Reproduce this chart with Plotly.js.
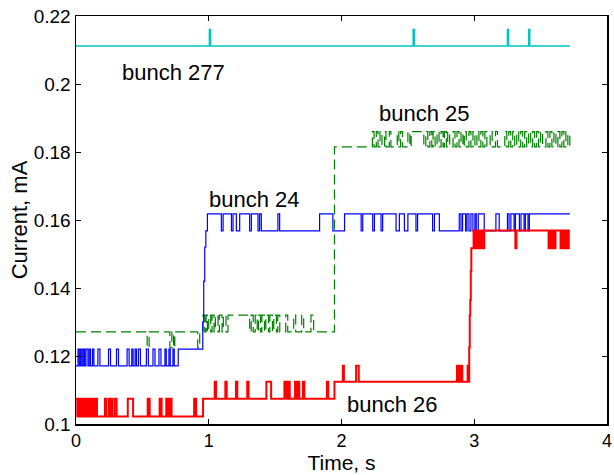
<!DOCTYPE html>
<html>
<head>
<meta charset="utf-8">
<script src="https://cdn.plot.ly/plotly-3.0.1.min.js"></script>
<style>html,body{margin:0;padding:0;background:#fff;}#chart{width:614px;height:475px;}</style>
</head>
<body>
<div id="chart"></div>
<script>
// ---- data (time in s, current in mA); each value holds until the next time ----
const cyanT = [0, 1.005, 1.013, 2.540, 2.548, 3.250, 3.258, 3.410, 3.418, 3.720];
const cyanV = [0.2112, 0.2160, 0.2112, 0.2160, 0.2112, 0.2160, 0.2112, 0.2160, 0.2112, 0.2112];

const blueT = [0.000,0.015,0.025,0.035,0.045,0.055,0.065,0.075,0.090,0.100,0.110,0.125,0.135,0.165,0.180,0.245,0.260,0.305,0.320,0.385,0.400,0.420,0.430,0.445,0.455,0.470,0.485,0.530,0.545,0.580,0.595,0.625,0.640,0.670,0.680,0.700,0.710,0.730,0.740,0.770,
  0.955,0.962,0.970,0.978,0.990,1.095,1.108,1.171,1.183,1.208,1.233,1.308,1.321,1.371,1.383,1.396,1.521,1.534,1.835,1.935,2.023,
  2.148,2.160,2.235,2.248,2.298,2.310,2.411,2.436,2.474,2.500,2.561,2.573,2.686,2.700,2.737,2.887,2.900,2.912,2.935,2.945,2.960,2.975,2.990,3.005,3.015,3.030,3.075,3.163,3.188,3.250,3.262,3.276,3.300,3.310,3.340,3.352,3.375,3.385,3.405,3.415,3.720];
const blueV = [0.1171,0.1220,0.1171,0.1220,0.1171,0.1220,0.1171,0.1220,0.1171,0.1220,0.1171,0.1220,0.1171,0.1220,0.1171,0.1220,0.1171,0.1220,0.1171,0.1220,0.1171,0.1220,0.1171,0.1220,0.1171,0.1220,0.1171,0.1220,0.1171,0.1220,0.1171,0.1220,0.1171,0.1220,0.1171,0.1220,0.1171,0.1220,0.1171,0.1220,
  0.1300,0.1420,0.1520,0.1568,0.1618,0.1568,0.1618,0.1568,0.1618,0.1568,0.1618,0.1568,0.1618,0.1568,0.1618,0.1568,0.1618,0.1568,0.1618,0.1568,0.1618,
  0.1568,0.1618,0.1568,0.1618,0.1568,0.1618,0.1568,0.1618,0.1568,0.1618,0.1568,0.1618,0.1568,0.1618,0.1568,0.1618,0.1568,0.1618,0.1568,0.1618,0.1568,0.1618,0.1568,0.1618,0.1568,0.1618,0.1568,0.1618,0.1568,0.1618,0.1568,0.1618,0.1568,0.1618,0.1568,0.1618,0.1568,0.1618,0.1568,0.1618,0.1618];

const greenT = [0.000,0.536,0.551,0.707,0.722,0.735,0.744,0.917,0.932,0.957,0.970,0.980,0.990,1.000,1.015,1.025,1.040,1.050,1.070,1.080,1.100,1.110,1.130,1.145,1.308,1.320,1.335,1.350,1.365,1.375,1.390,1.400,1.420,1.430,1.450,1.460,1.480,1.490,1.510,1.520,1.535,1.580,1.595,1.640,1.655,1.700,1.715,1.770,1.790,
  1.947,2.233,2.245,2.262,2.275,2.290,2.305,2.325,2.335,2.360,2.372,2.420,2.432,2.445,2.460,2.500,2.515,2.525,2.620,2.635,2.650,2.665,2.680,2.690,2.705,2.720,2.735,2.750,2.765,2.775,2.790,2.800,2.815,2.840,2.855,2.870,2.885,2.900,2.915,2.925,2.940,2.960,2.975,2.990,3.005,3.020,3.035,3.050,3.065,3.080,3.095,3.120,3.135,3.160,3.175,3.230,3.245,3.260,3.275,3.290,3.305,3.320,3.335,3.350,3.365,3.380,3.395,3.410,3.425,3.440,3.455,3.470,3.485,3.500,3.515,3.540,3.555,3.570,3.585,3.600,3.615,3.630,3.645,3.660,3.675,3.690,3.705,3.720];
const greenV = [0.1271,0.1224,0.1271,0.1224,0.1271,0.1224,0.1271,0.1224,0.1271,0.1320,0.1271,0.1320,0.1271,0.1320,0.1271,0.1320,0.1271,0.1320,0.1271,0.1320,0.1271,0.1320,0.1271,0.1320,0.1271,0.1320,0.1271,0.1320,0.1271,0.1320,0.1271,0.1320,0.1271,0.1320,0.1271,0.1320,0.1271,0.1320,0.1271,0.1320,0.1271,0.1320,0.1271,0.1320,0.1271,0.1320,0.1271,0.1320,0.1271,
  0.1815,0.1860,0.1815,0.1860,0.1815,0.1860,0.1815,0.1860,0.1815,0.1860,0.1815,0.1860,0.1815,0.1860,0.1815,0.1860,0.1815,0.1860,0.1815,0.1860,0.1815,0.1860,0.1815,0.1860,0.1815,0.1860,0.1815,0.1860,0.1815,0.1860,0.1815,0.1860,0.1815,0.1860,0.1815,0.1860,0.1815,0.1860,0.1815,0.1860,0.1815,0.1860,0.1815,0.1860,0.1815,0.1860,0.1815,0.1860,0.1815,0.1860,0.1815,0.1860,0.1815,0.1860,0.1815,0.1860,0.1815,0.1860,0.1815,0.1860,0.1815,0.1860,0.1815,0.1860,0.1815,0.1860,0.1815,0.1860,0.1815,0.1860,0.1815,0.1860,0.1815,0.1860,0.1815,0.1860,0.1815,0.1860,0.1815,0.1860,0.1815,0.1860,0.1815,0.1860,0.1815,0.1860,0.1815,0.1860,0.1815];

const redT = [
  0.000,0.010, 0.020,0.030, 0.040,0.048, 0.060,0.070, 0.085,0.092, 0.105,0.115, 0.130,0.137, 0.150,0.158, 0.218,0.226,
  0.245,0.252, 0.265,0.272, 0.290,0.306, 0.390,0.430, 0.540,0.555, 0.630,0.645, 0.680,0.690, 0.705,0.720, 0.890,0.905,
  0.957, 1.045,1.055, 1.125,1.135, 1.205,1.215, 1.290,1.300, 1.434,1.470, 1.570,1.580, 1.595,1.610, 1.650,1.660, 1.672,1.682, 1.710,1.720, 1.890,1.900,
  1.947, 2.010,2.018, 2.110,2.130, 2.870,2.880, 2.895,2.910, 2.950,2.958,
  2.962, 2.966, 2.970, 2.974, 2.978,
  2.995, 3.000,3.010, 3.020,3.030, 3.040,3.050, 3.060,3.075, 3.310,3.318, 3.560,3.570, 3.580,3.590, 3.600,3.612, 3.650,3.660, 3.675,3.685, 3.700,3.712, 3.720];
const redV = [
  0.1074,0.1022, 0.1074,0.1022, 0.1074,0.1022, 0.1074,0.1022, 0.1074,0.1022, 0.1074,0.1022, 0.1074,0.1022, 0.1074,0.1022, 0.1074,0.1022,
  0.1074,0.1022, 0.1074,0.1022, 0.1074,0.1022, 0.1074,0.1022, 0.1074,0.1022, 0.1074,0.1022, 0.1074,0.1022, 0.1074,0.1022, 0.1074,0.1022,
  0.1074, 0.1124,0.1074, 0.1124,0.1074, 0.1124,0.1074, 0.1124,0.1074, 0.1124,0.1074, 0.1124,0.1074, 0.1124,0.1074, 0.1124,0.1074, 0.1124,0.1074, 0.1124,0.1074, 0.1124,0.1074,
  0.1124, 0.1171,0.1124, 0.1171,0.1124, 0.1171,0.1124, 0.1171,0.1124, 0.1171,0.1124,
  0.1225, 0.1320, 0.1365, 0.1450, 0.1517,
  0.1569, 0.1517,0.1569, 0.1517,0.1569, 0.1517,0.1569, 0.1517,0.1569, 0.1517,0.1569, 0.1517,0.1569, 0.1517,0.1569, 0.1517,0.1569, 0.1517,0.1569, 0.1517,0.1569, 0.1517,0.1569, 0.1569];

const labels = ['bunch 277', 'bunch 25', 'bunch 24', 'bunch 26'];
const labelX = [0.335, 2.265, 0.99, 2.03];
const labelY = [0.2035, 0.1912, 0.1661, 0.1056];
const xTicks = [0, 1, 2, 3, 4];
const yTicks = [0.1, 0.12, 0.14, 0.16, 0.18, 0.2, 0.22];

const traces = [
  {x: cyanT, y: cyanV, mode: 'lines', line: {color: 'rgb(0,196,196)', width: 1.5, shape: 'hv'}},
  {x: greenT, y: greenV, mode: 'lines', line: {color: 'rgb(0,128,0)', width: 1.2, shape: 'hv', dash: '10px,5px'}},
  {x: blueT, y: blueV, mode: 'lines', line: {color: 'rgb(0,0,255)', width: 1.2, shape: 'hv'}},
  {x: redT, y: redV, mode: 'lines', line: {color: 'rgb(255,0,0)', width: 2, shape: 'hv'}}
];

const axisCommon = {
  showline: true, linecolor: 'black', linewidth: 1.5, mirror: 'ticks',
  ticks: 'inside', ticklen: 5, tickwidth: 1, tickcolor: 'black',
  showgrid: false, zeroline: false, fixedrange: true,
  tickfont: {size: 19, color: 'black'}
};

const layout = {
  width: 614, height: 475,
  margin: {l: 76, r: 7, t: 16, b: 51, pad: 0},
  paper_bgcolor: 'white', plot_bgcolor: 'white',
  showlegend: false,
  font: {family: '"Liberation Sans", Arial, sans-serif', size: 19, color: 'black'},
  xaxis: Object.assign({}, axisCommon, {
    range: [0, 4], tickvals: xTicks, ticktext: xTicks.map(String),
    tickfont: {size: 18, color: 'black'},
    title: {text: 'Time, s', font: {size: 21}, standoff: 3}
  }),
  yaxis: Object.assign({}, axisCommon, {
    range: [0.1, 0.22], tickvals: yTicks, ticktext: yTicks.map(String),
    title: {text: 'Current, mA', font: {size: 22}, standoff: 0}
  }),
  annotations: labels.map((t, i) => ({
    x: labelX[i], y: labelY[i], xref: 'x', yref: 'y', text: t, showarrow: false,
    xanchor: 'left', yanchor: 'middle', font: {size: 22, color: 'black'}
  }))
};

Plotly.newPlot('chart', traces, layout, {displayModeBar: false, staticPlot: true});
</script>
</body>
</html>
